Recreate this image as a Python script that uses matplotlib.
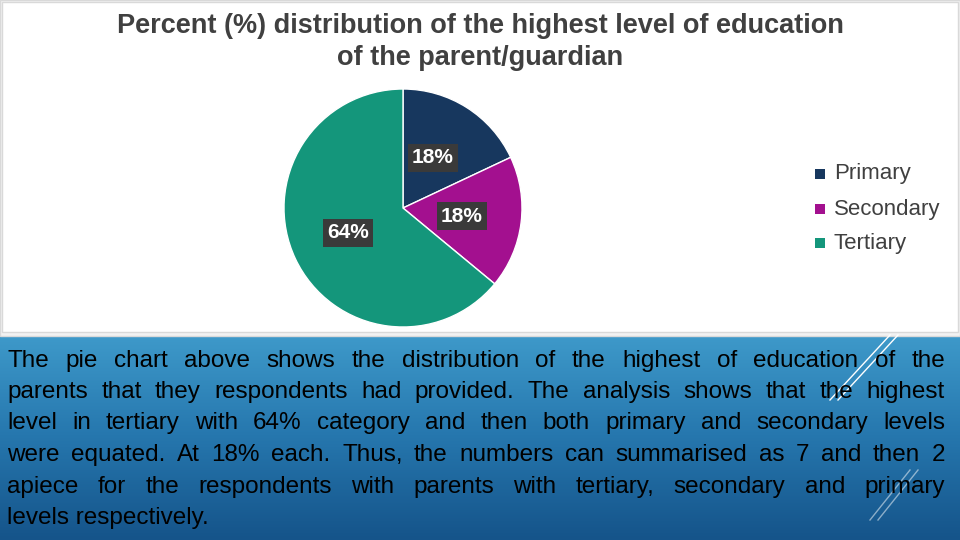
import matplotlib
matplotlib.use("Agg")
import matplotlib.pyplot as plt
import numpy as np
from matplotlib.patches import Rectangle
from matplotlib.colors import LinearSegmentedColormap

categories = ["Primary", "Secondary", "Tertiary"]
values = [18, 18, 64]
colors = ["#17375E", "#A3108F", "#14967B"]
title = "Percent (%) distribution of the highest level of education\nof the parent/guardian"
lines = [
    "The pie chart above shows the distribution of the highest of education of the",
    "parents that they respondents had provided. The analysis shows that the highest",
    "level in tertiary with 64% category and then both primary and secondary levels",
    "were equated. At 18% each. Thus, the numbers can summarised as 7 and then 2",
    "apiece for the respondents with parents with tertiary, secondary and primary",
    "levels respectively.",
]

plt.rcParams['font.family'] = ['Liberation Sans', 'DejaVu Sans']
W, H = 960, 540
fig = plt.figure(figsize=(9.6, 5.4), dpi=100)

bg = fig.add_axes([0, 0, 1, 1])
bg.axis('off')
grad = np.linspace(0, 1, 200)[:, None]
cm = LinearSegmentedColormap.from_list('b', ['#3F9BCB', '#2677AE', '#15548A'])
bg.imshow(grad, cmap=cm, extent=[0, W, H, 330], aspect='auto', zorder=0)
bg.add_patch(Rectangle((0, 0), W, 336, facecolor='#F2F2F2', edgecolor='#D9D9D9', zorder=1))
bg.add_patch(Rectangle((2, 2), W - 4, 330, facecolor='white', edgecolor='#D9D9D9', zorder=1))
for dx in (0, 8):
    bg.plot([830 + dx, 890 + dx], [400, 335], color='white', lw=1, zorder=2)
    bg.plot([870 + dx, 910 + dx], [520, 470], color='white', lw=1, alpha=0.5, zorder=2)
bg.set_xlim(0, W); bg.set_ylim(H, 0)

fig.text(480 / W, 1 - 42 / H, title, ha='center', va='center', fontsize=19.5,
         fontweight='bold', color='#404040', linespacing=1.3)

ax = fig.add_axes([(403 - 119) / W, 1 - (208 + 119) / H, 238 / W, 238 / H])
ax.pie(values, colors=colors, startangle=90, counterclock=False,
       wedgeprops=dict(edgecolor='white', linewidth=1))
ax.set_xlim(-1, 1); ax.set_ylim(-1, 1)
ax.set_aspect('equal')

pos = [(433, 158), (462, 216), (348, 233)]
for (x, y), v in zip(pos, values):
    fig.text(x / W, 1 - y / H, f"{v}%", ha='center', va='center', fontsize=15,
             color='white', fontweight='bold',
             bbox=dict(facecolor='#3A3A3A', edgecolor='none', pad=3))

ly = [174, 209, 243]
for col, name, y in zip(colors, categories, ly):
    bg.add_patch(Rectangle((815, y - 5), 10, 10, facecolor=col, zorder=3))
    fig.text(834 / W, 1 - y / H, name, ha='left', va='center', fontsize=16, color='#404040')

fig.canvas.draw()
r = fig.canvas.get_renderer()
x0, x1 = 7, 945
ys = [367, 398, 429, 461, 493, 524]
fs = 17.5
for i, (line, y) in enumerate(zip(lines, ys)):
    words = line.split(' ')
    if i == len(lines) - 1:
        fig.text(x0 / W, 1 - y / H, line, fontsize=fs, va='baseline', ha='left', color='black')
        continue
    ts = [fig.text(0, 0, w, fontsize=fs, va='baseline', ha='left', color='black') for w in words]
    ws = [t.get_window_extent(r).width for t in ts]
    gap = (x1 - x0 - sum(ws)) / (len(words) - 1)
    x = x0
    for t, w in zip(ts, ws):
        t.set_position((x / W, 1 - y / H))
        x += w + gap

fig.savefig('out.png', dpi=100)
